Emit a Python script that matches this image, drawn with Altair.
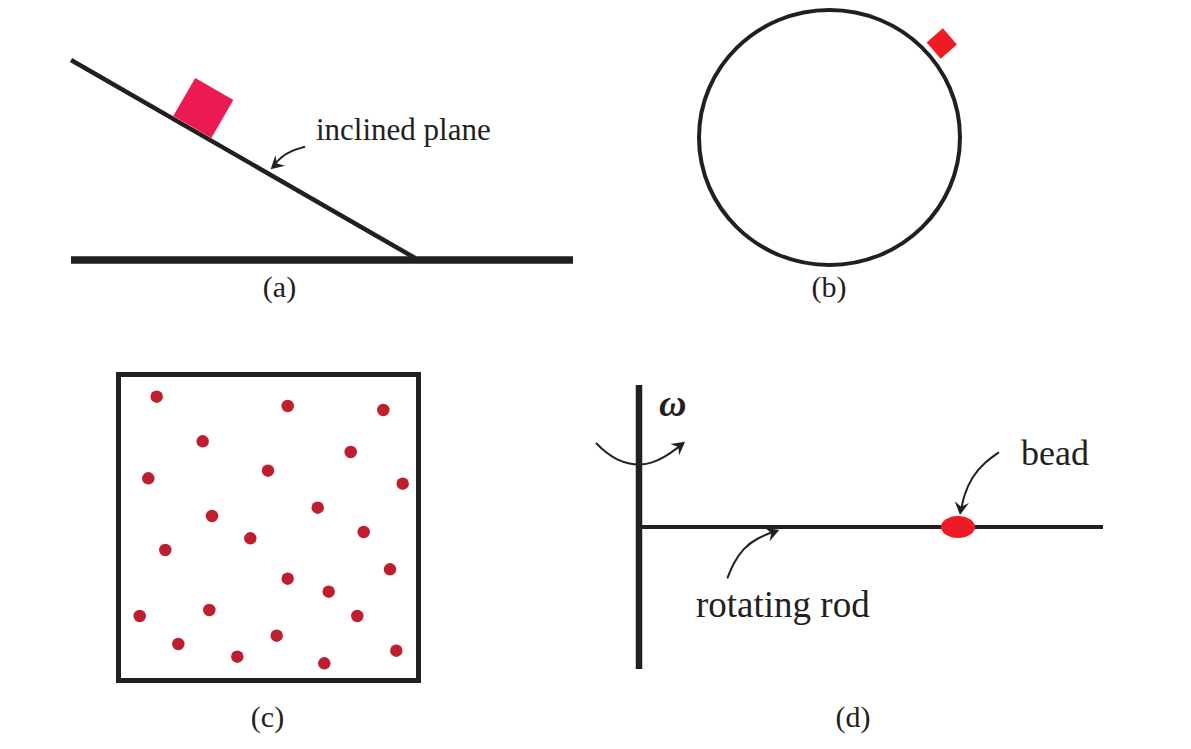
import altair as alt
import pandas as pd

W, H = 1175, 730
INK = "#231f20"
FONT = "Liberation Serif"

# straight strokes: incline, ground, vertical rod, horizontal rod
seg_x1 = [71, 71, 639, 639]
seg_y1 = [60, 260, 385, 527]
seg_x2 = [415, 573, 639, 1103]
seg_y2 = [258, 260, 669, 527]
seg_w = [4.5, 7.3, 6.5, 4]

# ring (b): centre, width and height of the stroke centre-line
ring_x, ring_y, ring_w, ring_h = [829.5], [137.5], [261], [255]

# rotated blocks on incline and ring
blk_x = [203.3, 941.8]
blk_y = [108, 43.5]
blk_side = [44, 21.5]
blk_angle = [30, 49]
blk_color = ["#ec1a52", "#ed1c24"]

# box (c) and its particles
box = dict(x=118.5, y=374.5, x2=418.5, y2=680.5)
dot_x = [156.7, 287.7, 383.3, 202.7, 350.7, 268, 148.3, 402.7, 317.7, 212, 363.7, 250.3,
         165.3, 390, 287.7, 328.7, 209.3, 139.7, 357.3, 276.7, 178.3, 237.3, 396.3, 324.3]
dot_y = [396.7, 406, 410, 441.3, 452, 470.7, 478.3, 483.7, 507.7, 516, 532, 538.3,
         550, 569.3, 578.7, 591.7, 610, 616, 616, 635.7, 644, 656.7, 650.7, 663.3]

# bead ellipse
bead_x, bead_y, bead_w, bead_h = [958], [527], [34], [22]

# curved arrows (points read along each stroke) and their heads
arr_id = ["a"] * 4 + ["w"] * 9 + ["b"] * 5 + ["r"] * 5
arr_x = [305, 292, 281, 274,
         596, 605, 617, 630, 640, 652, 665, 676, 683,
         999, 985, 972, 964, 961,
         727.3, 733.3, 743.3, 756.7, 775]
arr_y = [146.7, 150.5, 157, 165,
         443, 452, 460, 464, 465, 463, 457, 449, 443.5,
         452.3, 462, 476.7, 495, 510,
         578.3, 563.3, 548.3, 538.3, 531]
head_x = [270.7, 685, 960, 779.3]
head_y = [169.3, 441.7, 515, 530]
head_angle = [137, 322, 98, 340]

# texts
lab_text = ["inclined plane", "bead", "rotating rod"]
lab_x = [316, 1021, 696]
lab_y = [140, 465, 617]
lab_fs = [31, 36, 37]
cap_text = ["(a)", "(b)", "(c)", "(d)"]
cap_x = [279.5, 829, 267.5, 853]
cap_y = [297, 297, 727, 727]

xs = alt.Scale(domain=[8, 8 + W], nice=False, zero=False)
ys = alt.Scale(domain=[8, 8 + H], nice=False, zero=False, reverse=True)


def X(f="x"):
    return alt.X(f"{f}:Q", scale=xs, axis=None)


def Y(f="y"):
    return alt.Y(f"{f}:Q", scale=ys, axis=None)


def ellipse(ry):
    return f"M-1,0 A1,{ry} 0 1,0 1,0 A1,{ry} 0 1,0 -1,0 Z"


segs = alt.Chart(pd.DataFrame(dict(x=seg_x1, y=seg_y1, x2=seg_x2, y2=seg_y2, w=seg_w))).mark_rule(
    color=INK, strokeCap="butt"
).encode(x=X(), y=Y(), x2="x2:Q", y2="y2:Q", strokeWidth=alt.StrokeWidth("w:Q", scale=None))

ring = alt.Chart(pd.DataFrame(dict(x=ring_x, y=ring_y))).mark_point(
    shape=ellipse(round(ring_h[0] / ring_w[0], 4)), filled=False, stroke=INK, strokeWidth=4,
    opacity=1, size=ring_w[0] ** 2
).encode(x=X(), y=Y())

blocks = alt.Chart(pd.DataFrame(dict(x=blk_x, y=blk_y, s=[v * v for v in blk_side],
                                     a=blk_angle, c=blk_color))).mark_point(
    shape="square", filled=True, opacity=1, strokeWidth=0
).encode(x=X(), y=Y(), size=alt.Size("s:Q", scale=None), angle=alt.Angle("a:Q", scale=None),
         fill=alt.Fill("c:N", scale=None))

box_mark = alt.Chart(pd.DataFrame([box])).mark_rect(
    fill=None, stroke=INK, strokeWidth=5
).encode(x=X(), y=Y(), x2="x2:Q", y2="y2:Q")

dots = alt.Chart(pd.DataFrame(dict(x=dot_x, y=dot_y))).mark_circle(
    color="#be1e2d", size=156, opacity=1
).encode(x=X(), y=Y())

bead_mark = alt.Chart(pd.DataFrame(dict(x=bead_x, y=bead_y))).mark_point(
    shape=ellipse(round(bead_h[0] / bead_w[0], 4)), filled=True, opacity=1, fill="#ed1c24",
    strokeWidth=0, size=bead_w[0] ** 2
).encode(x=X(), y=Y())

arrows = alt.Chart(pd.DataFrame(dict(g=arr_id, x=arr_x, y=arr_y, o=list(range(len(arr_x)))))).mark_line(
    color=INK, strokeWidth=2, interpolate="basis"
).encode(x=X(), y=Y(), detail="g:N", order="o:Q")

heads = alt.Chart(pd.DataFrame(dict(x=head_x, y=head_y, a=head_angle))).mark_point(
    shape="M0,0 L-1,-0.55 L-0.65,0 L-1,0.55 Z", filled=True, fill=INK, opacity=1,
    strokeWidth=0, size=676
).encode(x=X(), y=Y(), angle=alt.Angle("a:Q", scale=None))

labels = alt.Chart(pd.DataFrame(dict(x=lab_x, y=lab_y, t=lab_text, fs=lab_fs))).mark_text(
    font=FONT, color=INK, align="left", baseline="alphabetic"
).encode(x=X(), y=Y(), text="t:N", size=alt.Size("fs:Q", scale=None))

caps = alt.Chart(pd.DataFrame(dict(x=cap_x, y=cap_y, t=cap_text))).mark_text(
    font=FONT, color=INK, align="center", baseline="alphabetic", fontSize=30
).encode(x=X(), y=Y(), text="t:N")

omega = alt.Chart(pd.DataFrame(dict(x=[659], y=[416], t=["ω"]))).mark_text(
    font=FONT, fontStyle="italic", fontWeight="bold", color=INK, align="left",
    baseline="alphabetic", fontSize=38
).encode(x=X(), y=Y(), text="t:N")

chart = alt.layer(
    segs, ring, blocks, box_mark, dots, arrows, heads, bead_mark, labels, caps, omega
).properties(
    width=W, height=H, padding=0, autosize=alt.AutoSizeParams(type="none")
).configure_view(stroke=None)

chart.save("out.html", embed_options={"renderer": "svg", "actions": False})
